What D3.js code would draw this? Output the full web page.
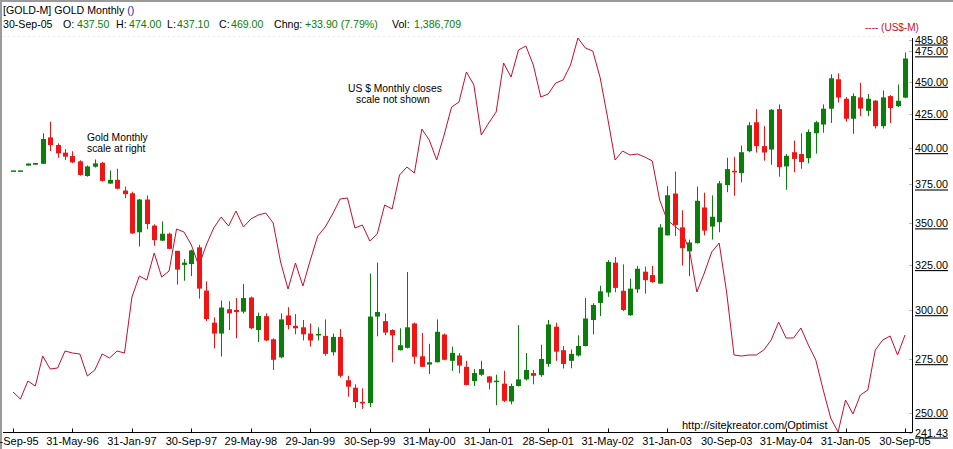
<!DOCTYPE html>
<html><head><meta charset="utf-8">
<script src="https://cdn.jsdelivr.net/npm/d3@7"></script>
<style>
body{margin:0;background:#fff}
svg{display:block;font-family:"Liberation Sans",Arial,sans-serif}
</style>
</head><body>
<svg id="c" width="953" height="449"></svg>
<script>
// Gold monthly candles, Sep-1995 .. Sep-2005 (121 months)
const opens=[384.5,384.5,387.8,388.4,389,407.7,402.2,396.8,394.4,390.7,
380.7,387,389.7,375.6,378.1,371,369.2,344.5,365.1,348.6,
339.4,343.6,333.3,325.1,325.6,335.4,310.6,293.4,287.8,300.5,
300.1,299.2,306.8,289.6,296.8,284.9,275.9,297.2,291.8,291,
287.8,286.9,286.6,278.4,286.1,264.9,261.4,254.9,254.4,296.6,
294.2,289.6,279.4,280.6,293,276.4,272.4,273.5,287.3,274.2,
276.8,271.3,264.5,267.5,266.7,264.2,263.3,255.1,262.2,265.3,
268.3,267.3,272.7,291.3,279.4,274.2,276.8,281.5,294.8,303.9,
309.5,326.4,310.5,297.3,311.3,321.2,319.3,314.5,342.6,369,
347.5,333,337.9,360,348,350.7,374.6,384.2,382.6,397.8,
418.8,401.4,399,428.7,387.2,397.1,395.8,392.9,410.7,417.1,
429,452,436.6,421.4,437.7,427.4,435.2,415.9,438.7,430.9,437.5];
const highs=[384.5,384.5,389.2,389.6,410.7,419.2,403.4,399.3,397.8,391.4,
387.9,392,390.3,384.4,385.6,373.6,370.2,365.5,367.8,349.4,
351.2,344.2,333.4,328.5,334,336.9,315.8,296.2,305.2,304.8,
306.5,314.3,307.3,298.7,298.3,285.4,298.3,301.6,297.9,294.8,
293,291,295.1,287.8,290.1,267,263,261.1,320.2,326.4,
298.3,290,290.5,321,293.5,288.1,282.6,295.1,287.8,281.2,
278,274.2,270.2,274.2,266.9,267.5,269.4,263.3,292.1,278,
269.8,282.1,294.8,293.4,281.5,279.8,286.9,306.5,303.7,313.3,
327.9,329.6,325.4,317.2,324.5,324.1,324.5,349.5,373.9,383.7,
358.2,340,373.6,369.6,367.8,377.4,393.2,393.9,401.8,418.8,
428.7,415.9,428.7,432.3,395.8,405.4,410.7,413.5,419.8,432.3,
456,456.8,438,440.8,449.2,440.3,435.5,443.1,439.5,447.9,474];
const lows=[384.5,384.5,387.8,388.4,389,397.9,393.2,391.6,389.5,380.9,
380.2,386.4,376.9,375.4,371.7,366,343.5,335.9,346.4,336.3,
339.2,334.3,313.9,316.1,318.7,306.2,294.3,280.3,276.3,289.6,
285.4,298.3,290,283.5,284,269.8,275.5,290,287.4,284.3,
281.2,284.3,276.7,276.7,266.2,257.3,252.1,251.8,252.6,286.4,
286.9,273.5,279.3,280.3,272.7,271.2,267.8,273.4,274.5,269.4,
268.2,262.5,262.2,267,260.6,253.4,254.8,253.8,262,264.8,
263,266.5,271.3,274.2,270.5,270.6,276.3,281.3,287.4,296.9,
307.2,309.7,299.5,297,309.3,308.9,315,314.3,342.6,342.2,
324.8,318.7,337.7,342.6,340.1,344.5,369.9,367.6,376.4,397.1,
396.9,391.2,388.3,380.2,371.5,383.2,385.6,389.3,396.1,411.1,
418.3,433.8,419.2,410.3,423.3,423.3,414.2,414.2,418.3,430.2,437.1];
const closes=[384.5,384.5,389.2,389.6,406.5,402.2,396.3,394,390,381.4,
387.2,389.3,377.4,378.1,372.2,368.6,343.8,365.1,349.6,339.7,
343.6,334.5,322.4,326.4,333.6,311.7,295.3,287.8,301.4,298.3,
299,306.5,290.5,296.9,284.3,274.7,295.1,292.2,290.5,287.4,
284.3,287.6,277.6,286.1,267,261.9,254.8,254.6,296.6,299,
288.3,286.9,281.9,291,276.2,271.3,273.5,288.7,274.7,278.1,
271.9,262.7,268.3,270.2,263.8,264.7,255.4,262.2,265.3,269.8,
267,275.1,292.5,278.7,272.7,277.6,281.5,295.6,302.8,310.2,
326.8,312.1,300.1,311.7,322.9,316.4,315.3,347.5,367.9,349,
334.9,338.3,364.3,345.5,354.1,375.8,385.4,383.5,397.1,416.6,
401.4,396.9,428.2,386.7,394.6,392.4,390.2,411.6,418.8,429,
452.8,437.6,421.4,438.7,429.1,436.6,415.9,437.7,429.5,435.1,469];
// US Dollar monthly closes (own hidden scale)
const dollar=[84.8,84.1,85.9,85.4,88.4,87.1,87.2,88.9,88.7,88.6,
86.4,87.0,88.6,88.2,88.9,88.7,94.3,96.4,96.0,98.7,
96.3,96.9,101.1,100.8,99.5,97.4,99.5,101.2,102.3,101.4,
102.9,101.3,102.1,102.5,102.7,101.7,97.8,95.1,97.7,95.4,
98.0,100.4,101.3,102.6,104.1,104.2,101.2,101.5,99.9,100.6,
103.5,103.1,106.5,107.3,106.7,111.1,110.0,108.0,110.5,113.3,
113.8,116.8,115.5,110.5,111.7,112.8,117.7,116.3,119.0,119.4,
117.5,114.3,114.6,115.7,116.0,117.5,120.2,119.2,118.9,116.2,
112.2,108.0,108.9,108.5,108.6,108.3,107.9,104.0,102.0,101.4,
100.8,99.0,94.8,96.7,98.8,99.7,94.8,88.5,88.4,88.5,
88.5,89.0,90.0,91.8,90.2,90.2,91.2,89.5,88.0,85.0,
82.2,80.8,84.0,82.6,84.5,85.0,89.0,90.0,90.4,88.5,90.5];
const tickLabels=["30-Sep-95","31-May-96","31-Jan-97","30-Sep-97","29-May-98","29-Jan-99",
"30-Sep-99","31-May-00","31-Jan-01","28-Sep-01","31-May-02","31-Jan-03","30-Sep-03",
"31-May-04","31-Jan-05","30-Sep-05"];
const tickEvery=8;
const priceTicks=[485.08,475,450,425,400,375,350,325,300,275,250,241.43];
const volume=1386709;
const lastDate="30-Sep-05";

const n=closes.length;
const GREEN="#0a7d0a", RED="#f01414", LINE="#c0102e";
const svg=d3.select("#c");
const x=d3.scaleLinear().domain([0,n-1]).range([13,905]);
const y=d3.scaleLog().domain([241.43,485.08]).range([432.5,39.5]);
const yd=d3.scaleLinear().domain([80.8,120.2]).range([432,38]);

// frame
svg.append("rect").attr("x",0).attr("y",0).attr("width",953).attr("height",2).attr("fill","#9a9a9a");
svg.append("rect").attr("x",0).attr("y",0).attr("width",2).attr("height",449).attr("fill","#9a9a9a");
svg.append("line").attr("x1",3).attr("x2",912).attr("y1",36.5).attr("y2",36.5)
  .attr("stroke","#ececec").attr("stroke-dasharray","2,3");

// header
const f2=d3.format(".2f");
const h1=svg.append("text").attr("x",3).attr("y",14).attr("font-size",10.6).attr("fill","#000");
h1.append("tspan").text("[GOLD-M] GOLD Monthly ");
h1.append("tspan").attr("fill","#1a2a9a").text("()");
const chg=closes[n-1]-closes[n-2];
const segs=[[lastDate,3,"#000"],["O:",63,"#000"],[f2(opens[n-1]),77,GREEN],
["H:",116,"#000"],[f2(highs[n-1]),129,GREEN],["L:",167,"#000"],[f2(lows[n-1]),177,GREEN],
["C:",219,"#000"],[f2(closes[n-1]),231,GREEN],["Chng:",274,"#000"],
["+"+f2(chg)+" ("+f2(chg/closes[n-2]*100)+"%)",305,GREEN],["Vol:",392,"#000"],[d3.format(",")(volume),414,GREEN]];
svg.append("g").selectAll("text").data(segs).join("text")
  .attr("x",d=>d[1]).attr("y",28).attr("font-size",10.6).attr("fill",d=>d[2]).text(d=>d[0]);

// dollar line
svg.append("path").datum(dollar)
  .attr("d",d3.line().x((d,i)=>x(i)).y(d=>yd(d)))
  .attr("fill","none").attr("stroke",LINE).attr("stroke-width",1);

// candles
const idx=d3.range(n);
const g=svg.append("g");
const col=i=>closes[i]>=opens[i]?GREEN:RED;
g.selectAll("line").data(idx).join("line")
  .attr("x1",i=>Math.round(x(i))+0.5).attr("x2",i=>Math.round(x(i))+0.5)
  .attr("y1",i=>y(highs[i])).attr("y2",i=>y(lows[i]))
  .attr("stroke",col).attr("stroke-width",1);
g.selectAll("rect").data(idx).join("rect")
  .attr("x",i=>Math.round(x(i))-2).attr("width",5)
  .attr("y",i=>Math.min(y(opens[i]),y(closes[i])))
  .attr("height",i=>Math.max(1.5,Math.abs(y(opens[i])-y(closes[i]))))
  .attr("fill",col);

// x axis
svg.append("line").attr("x1",3).attr("x2",912.5).attr("y1",432.5).attr("y2",432.5).attr("stroke","#000");
const tks=tickLabels.map((t,k)=>({t,i:k*tickEvery}));
svg.append("g").selectAll("line").data(tks).join("line")
  .attr("x1",d=>Math.round(x(d.i))+0.5).attr("x2",d=>Math.round(x(d.i))+0.5)
  .attr("y1",428.5).attr("y2",432.5).attr("stroke","#000");
svg.append("g").selectAll("text").data(tks).join("text")
  .attr("x",d=>x(d.i)).attr("y",445).attr("text-anchor","middle")
  .attr("font-size",11).attr("fill","#000").text(d=>d.t);

// right axis
svg.append("line").attr("x1",912.5).attr("x2",912.5).attr("y1",38).attr("y2",432.5).attr("stroke","#000");
svg.append("g").selectAll("line").data(priceTicks).join("line")
  .attr("x1",909).attr("x2",912).attr("y1",d=>Math.round(y(d))+0.5).attr("y2",d=>Math.round(y(d))+0.5)
  .attr("stroke","#bbb");
svg.append("g").selectAll("text").data(priceTicks).join("text")
  .attr("x",915).attr("y",d=>y(d)+4).attr("font-size",10.8).attr("fill","#000")
  .attr("text-decoration","underline").text(d=>f2(d));

// legend
svg.append("text").attr("x",865).attr("y",31).attr("font-size",10).attr("fill",LINE).text("---- (US$-M)");

// annotations
const ann=[["Gold Monthly",87,141,10.3],["scale at right",87,152,10.3],
["US $ Monthly closes",348,92,10.3],["scale not shown",356,103,10.3],
["http://sitekreator.com/Optimist",682,429,11]];
svg.append("g").selectAll("text").data(ann).join("text")
  .attr("x",d=>d[1]).attr("y",d=>d[2]).attr("font-size",d=>d[3]).attr("fill","#000").text(d=>d[0]);
</script>
</body></html>
